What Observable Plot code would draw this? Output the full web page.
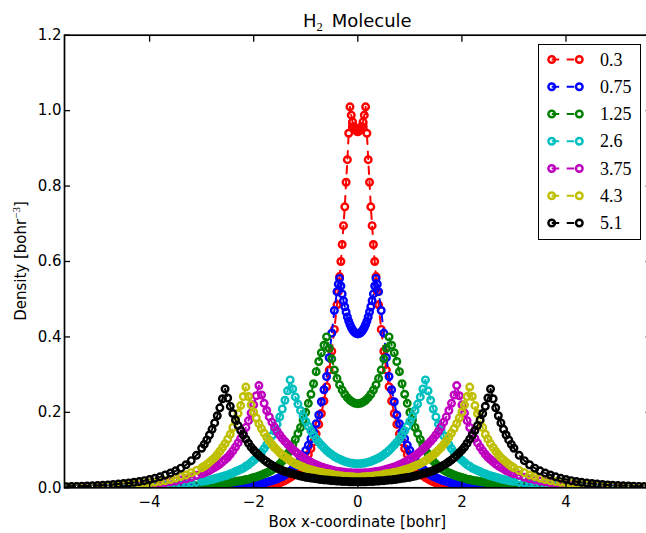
<!DOCTYPE html>
<html>
<head>
<meta charset="utf-8">
<script src="https://cdn.jsdelivr.net/npm/d3@7"></script>
<script src="https://cdn.jsdelivr.net/npm/@observablehq/plot@0.6"></script>
<style>
  html, body { margin: 0; padding: 0; background: #fff; }
  #chart { position: relative; width: 646px; height: 533px; overflow: hidden; }
</style>
</head>
<body>
<div id="chart"></div>
<script>
// Electron density of H2 along the bond axis, one curve per bond length (bohr).

// Sample positions along the box x-coordinate [bohr]
const xs = [
  -5.6, -5.5, -5.4, -5.3, -5.2, -5.1, -5.0, -4.9, -4.8, -4.7, -4.6, -4.5, -4.4,
  -4.3, -4.2, -4.1, -4.0, -3.9, -3.8, -3.7, -3.6, -3.5, -3.4, -3.3, -3.2, -3.1,
  -3.0, -2.95, -2.9, -2.85, -2.8, -2.75, -2.7, -2.65, -2.6, -2.55,
  -2.5, -2.45, -2.4, -2.35, -2.3, -2.25, -2.2, -2.15, -2.1, -2.05,
  -2.0, -1.95, -1.9, -1.85, -1.8, -1.75, -1.7, -1.65, -1.6, -1.55,
  -1.5, -1.45, -1.4, -1.35, -1.3, -1.25, -1.2, -1.15, -1.1, -1.05,
  -1.0, -0.95, -0.9, -0.85, -0.8, -0.75, -0.7, -0.65, -0.6, -0.55,
  -0.5, -0.45, -0.4, -0.35, -0.3, -0.25, -0.2, -0.15, -0.1, -0.05,
  0,
  0.05, 0.1, 0.15, 0.2, 0.25, 0.3, 0.35, 0.4, 0.45, 0.5,
  0.55, 0.6, 0.65, 0.7, 0.75, 0.8, 0.85, 0.9, 0.95, 1.0,
  1.05, 1.1, 1.15, 1.2, 1.25, 1.3, 1.35, 1.4, 1.45, 1.5,
  1.55, 1.6, 1.65, 1.7, 1.75, 1.8, 1.85, 1.9, 1.95, 2.0,
  2.05, 2.1, 2.15, 2.2, 2.25, 2.3, 2.35, 2.4, 2.45, 2.5,
  2.55, 2.6, 2.65, 2.7, 2.75, 2.8, 2.85, 2.9, 2.95, 3.0,
  3.1, 3.2, 3.3, 3.4, 3.5, 3.6, 3.7, 3.8, 3.9, 4.0, 4.1, 4.2, 4.3,
  4.4, 4.5, 4.6, 4.7, 4.8, 4.9, 5.0, 5.1, 5.2, 5.3, 5.4, 5.5, 5.6
];

// Extra sample positions near the nuclei of the two shortest bonds
const xsFine = [
  -0.375, -0.325, -0.275, -0.225, -0.175, -0.125, -0.075, -0.025,
  0.025, 0.075, 0.125, 0.175, 0.225, 0.275, 0.325, 0.375
];

// Density [bohr^-3] at each sample, R = 0.3
const densR030 = [
  0, 0, 0, 0, 0, 0, 0, 0, 0, 0, 0, 0, 0,
  0, 0, 0, 0, 0, 0, 0, 0, 0, 0, 0, 0, 0,
  0, 0.0001, 0.0001, 0.0001, 0.0001, 0.0001, 0.0002, 0.0002, 0.0002, 0.0003,
  0.0003, 0.0004, 0.0005, 0.0006, 0.0008, 0.0009, 0.0011, 0.0013, 0.0016, 0.0019,
  0.0023, 0.0027, 0.0033, 0.0039, 0.0047, 0.0056, 0.0067, 0.008, 0.0095, 0.0113,
  0.0135, 0.016, 0.019, 0.023, 0.027, 0.032, 0.038, 0.045, 0.053, 0.063,
  0.075, 0.088, 0.104, 0.122, 0.143, 0.168, 0.197, 0.23, 0.268, 0.312,
  0.362, 0.42, 0.485, 0.56, 0.645, 0.745, 0.87, 1.01, 0.97, 0.95,
  0.944,
  0.95, 0.97, 1.01, 0.87, 0.745, 0.645, 0.56, 0.485, 0.42, 0.362,
  0.312, 0.268, 0.23, 0.197, 0.168, 0.143, 0.122, 0.104, 0.088, 0.075,
  0.063, 0.053, 0.045, 0.038, 0.032, 0.027, 0.023, 0.019, 0.016, 0.0135,
  0.0113, 0.0095, 0.008, 0.0067, 0.0056, 0.0047, 0.0039, 0.0033, 0.0027, 0.0023,
  0.0019, 0.0016, 0.0013, 0.0011, 0.0009, 0.0008, 0.0006, 0.0005, 0.0004, 0.0003,
  0.0003, 0.0002, 0.0002, 0.0002, 0.0001, 0.0001, 0.0001, 0.0001, 0.0001, 0,
  0, 0, 0, 0, 0, 0, 0, 0, 0, 0, 0, 0, 0,
  0, 0, 0, 0, 0, 0, 0, 0, 0, 0, 0, 0, 0
];
const densR030Fine = [
  0.52, 0.60, 0.695, 0.81, 0.94, 0.988, 0.958, 0.946,
  0.946, 0.958, 0.988, 0.94, 0.81, 0.695, 0.60, 0.52
];

// R = 0.75
const densR075 = [
  0, 0, 0, 0, 0, 0, 0, 0, 0, 0, 0, 0.0001, 0.0001,
  0.0001, 0.0001, 0.0001, 0.0001, 0.0002, 0.0002, 0.0002, 0.0003, 0.0003, 0.0004, 0.0005, 0.0006, 0.0008,
  0.001, 0.0011, 0.0012, 0.0013, 0.0014, 0.0016, 0.0018, 0.002, 0.0022, 0.0024,
  0.0027, 0.003, 0.0034, 0.0038, 0.0042, 0.0047, 0.0053, 0.0059, 0.0066, 0.0074,
  0.0083, 0.0093, 0.0104, 0.0117, 0.013, 0.015, 0.017, 0.019, 0.021, 0.024,
  0.027, 0.03, 0.034, 0.039, 0.044, 0.051, 0.058, 0.066, 0.075, 0.085,
  0.099, 0.113, 0.13, 0.149, 0.17, 0.193, 0.228, 0.26, 0.295, 0.345,
  0.41, 0.47, 0.52, 0.555, 0.514, 0.48, 0.453, 0.433, 0.419, 0.411,
  0.408,
  0.411, 0.419, 0.433, 0.453, 0.48, 0.514, 0.555, 0.52, 0.47, 0.41,
  0.345, 0.295, 0.26, 0.228, 0.193, 0.17, 0.149, 0.13, 0.113, 0.099,
  0.085, 0.075, 0.066, 0.058, 0.051, 0.044, 0.039, 0.034, 0.03, 0.027,
  0.024, 0.021, 0.019, 0.017, 0.015, 0.013, 0.0117, 0.0104, 0.0093, 0.0083,
  0.0074, 0.0066, 0.0059, 0.0053, 0.0047, 0.0042, 0.0038, 0.0034, 0.003, 0.0027,
  0.0024, 0.0022, 0.002, 0.0018, 0.0016, 0.0014, 0.0013, 0.0012, 0.0011, 0.001,
  0.0008, 0.0006, 0.0005, 0.0004, 0.0003, 0.0003, 0.0002, 0.0002, 0.0002, 0.0001, 0.0001, 0.0001, 0.0001,
  0.0001, 0.0001, 0, 0, 0, 0, 0, 0, 0, 0, 0, 0, 0
];
const densR075Fine = [
  0.54, 0.535, 0.496, 0.466, 0.442, 0.425, 0.414, 0.409,
  0.409, 0.414, 0.425, 0.442, 0.466, 0.496, 0.535, 0.54
];

// R = 1.25
const densR125 = [
  0.0001, 0.0002, 0.0002, 0.0002, 0.0003, 0.0003, 0.0003, 0.0004, 0.0005, 0.0005, 0.0006, 0.0007, 0.0008,
  0.001, 0.0011, 0.0013, 0.0015, 0.0017, 0.002, 0.0023, 0.0027, 0.0031, 0.0036, 0.0042, 0.0049, 0.0056,
  0.0065, 0.007, 0.0075, 0.0081, 0.0087, 0.0093, 0.01, 0.0108, 0.0116, 0.0125,
  0.0135, 0.0145, 0.0155, 0.0165, 0.018, 0.019, 0.02, 0.022, 0.023, 0.025,
  0.027, 0.029, 0.031, 0.034, 0.037, 0.04, 0.043, 0.047, 0.052, 0.057,
  0.063, 0.071, 0.08, 0.09, 0.1, 0.114, 0.128, 0.144, 0.16, 0.18,
  0.2, 0.224, 0.248, 0.276, 0.308, 0.335, 0.358, 0.378, 0.4, 0.37,
  0.342, 0.312, 0.29, 0.273, 0.259, 0.248, 0.239, 0.232, 0.227, 0.224,
  0.223,
  0.224, 0.227, 0.232, 0.239, 0.248, 0.259, 0.273, 0.29, 0.312, 0.342,
  0.37, 0.4, 0.378, 0.358, 0.335, 0.308, 0.276, 0.248, 0.224, 0.2,
  0.18, 0.16, 0.144, 0.128, 0.114, 0.1, 0.09, 0.08, 0.071, 0.063,
  0.057, 0.052, 0.047, 0.043, 0.04, 0.037, 0.034, 0.031, 0.029, 0.027,
  0.025, 0.023, 0.022, 0.02, 0.019, 0.018, 0.0165, 0.0155, 0.0145, 0.0135,
  0.0125, 0.0116, 0.0108, 0.01, 0.0093, 0.0087, 0.0081, 0.0075, 0.007, 0.0065,
  0.0056, 0.0049, 0.0042, 0.0036, 0.0031, 0.0027, 0.0023, 0.002, 0.0017, 0.0015, 0.0013, 0.0011, 0.001,
  0.0008, 0.0007, 0.0006, 0.0005, 0.0005, 0.0004, 0.0003, 0.0003, 0.0003, 0.0002, 0.0002, 0.0002, 0.0001
];

// R = 2.6
const densR260 = [
  0.0008, 0.0009, 0.001, 0.0011, 0.0012, 0.0013, 0.0015, 0.0017, 0.0019, 0.0021, 0.0024, 0.0027, 0.003,
  0.0034, 0.0039, 0.0043, 0.0049, 0.0054, 0.006, 0.0069, 0.0077, 0.0089, 0.01, 0.0114, 0.013, 0.015,
  0.017, 0.018, 0.019, 0.021, 0.022, 0.024, 0.026, 0.028, 0.03, 0.032,
  0.034, 0.037, 0.039, 0.043, 0.046, 0.049, 0.052, 0.057, 0.061, 0.067,
  0.073, 0.079, 0.086, 0.094, 0.104, 0.114, 0.126, 0.138, 0.152, 0.169,
  0.188, 0.209, 0.232, 0.257, 0.286, 0.262, 0.241, 0.222, 0.205, 0.19,
  0.176, 0.163, 0.151, 0.14, 0.13, 0.121, 0.113, 0.106, 0.099, 0.093,
  0.088, 0.083, 0.079, 0.076, 0.073, 0.07, 0.068, 0.066, 0.065, 0.064,
  0.064,
  0.064, 0.065, 0.066, 0.068, 0.07, 0.073, 0.076, 0.079, 0.083, 0.088,
  0.093, 0.099, 0.106, 0.113, 0.121, 0.13, 0.14, 0.151, 0.163, 0.176,
  0.19, 0.205, 0.222, 0.241, 0.262, 0.286, 0.257, 0.232, 0.209, 0.188,
  0.169, 0.152, 0.138, 0.126, 0.114, 0.104, 0.094, 0.086, 0.079, 0.073,
  0.067, 0.061, 0.057, 0.052, 0.049, 0.046, 0.043, 0.039, 0.037, 0.034,
  0.032, 0.03, 0.028, 0.026, 0.024, 0.022, 0.021, 0.019, 0.018, 0.017,
  0.015, 0.013, 0.0114, 0.01, 0.0089, 0.0077, 0.0069, 0.006, 0.0054, 0.0049, 0.0043, 0.0039, 0.0034,
  0.003, 0.0027, 0.0024, 0.0021, 0.0019, 0.0017, 0.0015, 0.0013, 0.0012, 0.0011, 0.001, 0.0009, 0.0008
];

// R = 3.75
const densR375 = [
  0.0015, 0.0017, 0.0019, 0.0021, 0.0023, 0.0026, 0.0029, 0.0033, 0.0037, 0.0041, 0.0046, 0.0051, 0.0057,
  0.0065, 0.0073, 0.0084, 0.0095, 0.0108, 0.0125, 0.014, 0.016, 0.018, 0.021, 0.024, 0.028, 0.033,
  0.037, 0.04, 0.043, 0.046, 0.05, 0.054, 0.058, 0.063, 0.069, 0.075,
  0.081, 0.089, 0.098, 0.108, 0.119, 0.131, 0.144, 0.16, 0.178, 0.198,
  0.22, 0.244, 0.271, 0.246, 0.224, 0.205, 0.188, 0.174, 0.161, 0.15,
  0.14, 0.131, 0.123, 0.116, 0.109, 0.102, 0.096, 0.09, 0.085, 0.08,
  0.076, 0.072, 0.068, 0.064, 0.061, 0.058, 0.055, 0.053, 0.051, 0.049,
  0.047, 0.045, 0.044, 0.043, 0.042, 0.041, 0.04, 0.04, 0.039, 0.039,
  0.039,
  0.039, 0.039, 0.04, 0.04, 0.041, 0.042, 0.043, 0.044, 0.045, 0.047,
  0.049, 0.051, 0.053, 0.055, 0.058, 0.061, 0.064, 0.068, 0.072, 0.076,
  0.08, 0.085, 0.09, 0.096, 0.102, 0.109, 0.116, 0.123, 0.131, 0.14,
  0.15, 0.161, 0.174, 0.188, 0.205, 0.224, 0.246, 0.271, 0.244, 0.22,
  0.198, 0.178, 0.16, 0.144, 0.131, 0.119, 0.108, 0.098, 0.089, 0.081,
  0.075, 0.069, 0.063, 0.058, 0.054, 0.05, 0.046, 0.043, 0.04, 0.037,
  0.033, 0.028, 0.024, 0.021, 0.018, 0.016, 0.014, 0.0125, 0.0108, 0.0095, 0.0084, 0.0073, 0.0065,
  0.0057, 0.0051, 0.0046, 0.0041, 0.0037, 0.0033, 0.0029, 0.0026, 0.0023, 0.0021, 0.0019, 0.0017, 0.0015
];

// R = 4.3
const densR430 = [
  0.0019, 0.0021, 0.0024, 0.0027, 0.003, 0.0034, 0.0038, 0.0043, 0.0048, 0.0053, 0.006, 0.0068, 0.0077,
  0.0088, 0.01, 0.0115, 0.0131, 0.0147, 0.017, 0.019, 0.022, 0.026, 0.03, 0.034, 0.04, 0.046,
  0.053, 0.057, 0.062, 0.068, 0.074, 0.08, 0.088, 0.097, 0.107, 0.117,
  0.129, 0.142, 0.16, 0.177, 0.197, 0.218, 0.242, 0.267, 0.242, 0.22,
  0.201, 0.185, 0.17, 0.157, 0.145, 0.134, 0.124, 0.115, 0.107, 0.1,
  0.093, 0.087, 0.082, 0.077, 0.072, 0.068, 0.064, 0.061, 0.058, 0.055,
  0.052, 0.05, 0.048, 0.046, 0.044, 0.042, 0.041, 0.039, 0.038, 0.037,
  0.036, 0.034, 0.033, 0.032, 0.031, 0.03, 0.03, 0.029, 0.029, 0.028,
  0.028,
  0.028, 0.029, 0.029, 0.03, 0.03, 0.031, 0.032, 0.033, 0.034, 0.036,
  0.037, 0.038, 0.039, 0.041, 0.042, 0.044, 0.046, 0.048, 0.05, 0.052,
  0.055, 0.058, 0.061, 0.064, 0.068, 0.072, 0.077, 0.082, 0.087, 0.093,
  0.1, 0.107, 0.115, 0.124, 0.134, 0.145, 0.157, 0.17, 0.185, 0.201,
  0.22, 0.242, 0.267, 0.242, 0.218, 0.197, 0.177, 0.16, 0.142, 0.129,
  0.117, 0.107, 0.097, 0.088, 0.08, 0.074, 0.068, 0.062, 0.057, 0.053,
  0.046, 0.04, 0.034, 0.03, 0.026, 0.022, 0.019, 0.017, 0.0147, 0.0131, 0.0115, 0.01, 0.0088,
  0.0077, 0.0068, 0.006, 0.0053, 0.0048, 0.0043, 0.0038, 0.0034, 0.003, 0.0027, 0.0024, 0.0021, 0.0019
];

// R = 5.1
const densR510 = [
  0.003, 0.0034, 0.0037, 0.0042, 0.0047, 0.0052, 0.0059, 0.0067, 0.0076, 0.0086, 0.0098, 0.0113, 0.0128,
  0.0144, 0.0165, 0.019, 0.022, 0.025, 0.029, 0.034, 0.039, 0.045, 0.052, 0.061, 0.072, 0.086,
  0.105, 0.115, 0.127, 0.14, 0.155, 0.172, 0.191, 0.212, 0.236, 0.262,
  0.238, 0.216, 0.197, 0.18, 0.165, 0.152, 0.14, 0.129, 0.118, 0.108,
  0.1, 0.093, 0.086, 0.08, 0.074, 0.069, 0.064, 0.06, 0.056, 0.052,
  0.049, 0.046, 0.043, 0.041, 0.039, 0.037, 0.035, 0.033, 0.031, 0.03,
  0.028, 0.027, 0.026, 0.025, 0.024, 0.023, 0.022, 0.021, 0.021, 0.02,
  0.019, 0.019, 0.018, 0.018, 0.017, 0.017, 0.017, 0.016, 0.016, 0.016,
  0.016,
  0.016, 0.016, 0.016, 0.017, 0.017, 0.017, 0.018, 0.018, 0.019, 0.019,
  0.02, 0.021, 0.021, 0.022, 0.023, 0.024, 0.025, 0.026, 0.027, 0.028,
  0.03, 0.031, 0.033, 0.035, 0.037, 0.039, 0.041, 0.043, 0.046, 0.049,
  0.052, 0.056, 0.06, 0.064, 0.069, 0.074, 0.08, 0.086, 0.093, 0.1,
  0.108, 0.118, 0.129, 0.14, 0.152, 0.165, 0.18, 0.197, 0.216, 0.238,
  0.262, 0.236, 0.212, 0.191, 0.172, 0.155, 0.14, 0.127, 0.115, 0.105,
  0.086, 0.072, 0.061, 0.052, 0.045, 0.039, 0.034, 0.029, 0.025, 0.022, 0.019, 0.0165, 0.0144,
  0.0128, 0.0113, 0.0098, 0.0086, 0.0076, 0.0067, 0.0059, 0.0052, 0.0047, 0.0042, 0.0037, 0.0034, 0.003
];

// Legend labels (bond length, bohr) and matching line colours
const bondLabels = ["0.3", "0.75", "1.25", "2.6", "3.75", "4.3", "5.1"];
const bondColors = ["#ff0000", "#0000ff", "#008000", "#00bfbf", "#bf00bf", "#bfbf00", "#000000"];
const xTicks = [-4, -2, 0, 2, 4];
const yTicks = [0, 0.2, 0.4, 0.6, 0.8, 1.0, 1.2];

const curves = [densR030, densR075, densR125, densR260, densR375, densR430, densR510];
const fineCurves = [densR030Fine, densR075Fine, null, null, null, null, null];
curves.forEach((c, k) => {
  if (c.length !== xs.length) throw new Error(`series ${bondLabels[k]} has ${c.length} values, expected ${xs.length}`);
  if (fineCurves[k] && fineCurves[k].length !== xsFine.length) throw new Error(`fine series ${bondLabels[k]} length mismatch`);
});

// One row per sample, merged with the extra samples and ordered along x
const rows = curves.map((c, k) => {
  const base = xs.map((x, i) => ({x, y: c[i], bond: bondLabels[k]}));
  const extra = fineCurves[k] ? xsFine.map((x, i) => ({x, y: fineCurves[k][i], bond: bondLabels[k]})) : [];
  return d3.sort(base.concat(extra), d => d.x);
});

const serif = "'Liberation Serif', 'DejaVu Serif', serif";
const sans = "'DejaVu Sans', sans-serif";

// Curve marks: dashed line, then hollow circles, in plotting order
const curveMarks = rows.flatMap((data, k) => [
  Plot.line(data, {x: "x", y: "y", stroke: bondColors[k], strokeWidth: 2, strokeDasharray: "7.5,7.5", clip: true}),
  Plot.dot(data, {x: "x", y: "y", r: 3.3, stroke: bondColors[k], strokeWidth: 2.4, fill: "none", clip: true})
]);

const tickStyle = {tickSize: -6, fill: "none", label: null, strokeWidth: 1.3};

const chart = Plot.plot({
  width: 651,
  height: 533,
  marginLeft: 64,
  marginRight: 0.4,
  marginTop: 34.7,
  marginBottom: 45.7,
  style: {fontFamily: sans, fontSize: "15px", background: "white", maxWidth: "none", color: "black"},
  x: {domain: [-5.635, 5.635], label: null},
  y: {domain: [0, 1.2], label: null},
  marks: [
    Plot.axisY(yTicks, {anchor: "left", tickSize: 0, tickPadding: 3, tickFormat: d3.format(".1f"), label: null}),
    Plot.axisX(xTicks, {anchor: "bottom", tickSize: 0, tickPadding: 9, tickFormat: d3.format("d"), label: null}),
    ...curveMarks,
    Plot.frame({stroke: "black", strokeWidth: 1.7}),
    Plot.axisY(yTicks, {anchor: "left", ...tickStyle}),
    Plot.axisY(yTicks, {anchor: "right", ...tickStyle}),
    Plot.axisX(xTicks, {anchor: "bottom", ...tickStyle}),
    Plot.axisX(xTicks, {anchor: "top", ...tickStyle})
  ]
});

document.getElementById("chart").appendChild(chart);

const svg = d3.select(chart);

// Title with subscript
const title = svg.append("text")
  .attr("x", 357.3).attr("y", 26.7)
  .attr("text-anchor", "middle")
  .style("font-family", sans).style("font-size", "18px").attr("fill", "black");
title.append("tspan").text("H");
title.append("tspan").attr("dy", 4).style("font-family", serif).style("font-size", "12.5px").text("2");
title.append("tspan").attr("dy", -4).text("\u2002Molecule");

// Axis labels
svg.append("text")
  .attr("x", 357.3).attr("y", 526.5)
  .attr("text-anchor", "middle")
  .style("font-family", sans).style("font-size", "15px").attr("fill", "black")
  .text("Box x-coordinate [bohr]");

const ylab = svg.append("text")
  .attr("transform", "translate(25.5,261) rotate(-90)")
  .attr("text-anchor", "middle")
  .style("font-family", sans).style("font-size", "15px").attr("fill", "black");
ylab.append("tspan").text("Density [bohr");
ylab.append("tspan").attr("dy", -6).style("font-family", serif).style("font-size", "11px").text("\u22123");
ylab.append("tspan").attr("dy", 6).text("]");

// Legend box
const lg = svg.append("g");
lg.append("rect")
  .attr("x", 538.5).attr("y", 44.5).attr("width", 102).attr("height", 195)
  .attr("fill", "white").attr("stroke", "black").attr("stroke-width", 1);
bondLabels.forEach((lab, k) => {
  const cy = 59.5 + k * 27.25;
  lg.append("line")
    .attr("x1", 551.7).attr("x2", 579.3).attr("y1", cy).attr("y2", cy)
    .attr("stroke", bondColors[k]).attr("stroke-width", 2).attr("stroke-dasharray", "7.5,7.5");
  [551.7, 579.3].forEach(cx => lg.append("circle")
    .attr("cx", cx).attr("cy", cy).attr("r", 3.3)
    .attr("fill", "none").attr("stroke", bondColors[k]).attr("stroke-width", 2.4));
  lg.append("text")
    .attr("x", 600).attr("y", cy + 6)
    .attr("text-anchor", "start")
    .style("font-family", serif).style("font-size", "18px").attr("fill", "black")
    .text(lab);
});
</script>
</body>
</html>
